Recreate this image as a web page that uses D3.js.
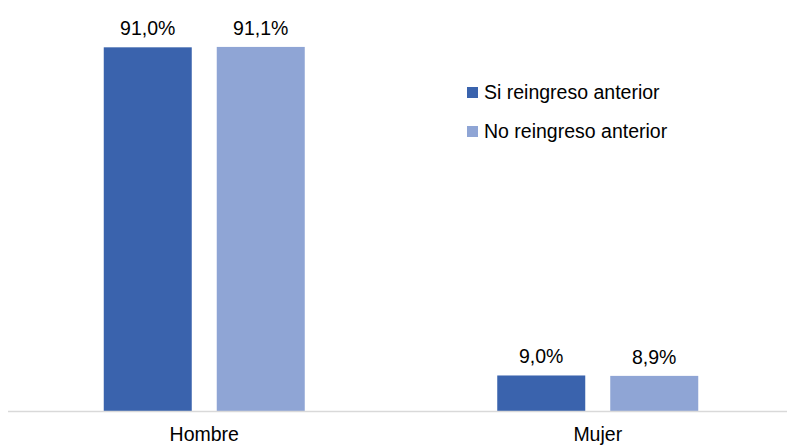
<!DOCTYPE html>
<html><head><meta charset="utf-8">
<script src="https://cdn.jsdelivr.net/npm/d3@7"></script>
<style>body{margin:0;background:#fff}svg{display:block}text{font-family:"Liberation Sans",Arial,sans-serif;fill:#000}</style>
</head><body><svg width="787" height="447"></svg>
<script>
const categories = ["Hombre", "Mujer"];
const seriesNames = ["Si reingreso anterior", "No reingreso anterior"];
const siValues = [91.0, 9.0];
const noValues = [91.1, 8.9];
const colors = ["#3a63ad", "#8fa5d5"];

const FS = 19.5;
const svg = d3.select("svg");
const x0 = d3.scaleBand().domain(categories).range([7.5, 794.5]).paddingInner(0).paddingOuter(0);
const groupW = 201, outer = (x0.bandwidth() - groupW) / 2;
const x1 = d3.scaleBand().domain(seriesNames).range([outer, outer + groupW]).paddingInner(25 / 113).paddingOuter(0);
const y = d3.scaleLinear().domain([0, 100]).range([411.5, 11.3]);

const data = categories.map((c, i) => ({cat: c, vals: [siValues[i], noValues[i]]}));
const fmt = v => v.toFixed(1).replace(".", ",") + "%";

const g = svg.selectAll("g.cat").data(data).join("g").attr("class", "cat")
  .attr("transform", d => `translate(${x0(d.cat)},0)`);
g.selectAll("rect").data(d => d.vals.map((v, j) => ({s: seriesNames[j], v, j})))
  .join("rect")
  .attr("x", d => x1(d.s)).attr("width", x1.bandwidth())
  .attr("y", d => y(d.v)).attr("height", d => y(0) - y(d.v))
  .attr("fill", d => colors[d.j]);
g.selectAll("text.lbl").data(d => d.vals.map((v, j) => ({s: seriesNames[j], v, j})))
  .join("text").attr("class", "lbl")
  .attr("x", d => x1(d.s) + x1.bandwidth() / 2).attr("y", d => y(d.v) - 12)
  .attr("text-anchor", "middle").attr("font-size", FS).text(d => fmt(d.v));

// axis
const ax = svg.append("g").attr("transform", `translate(0,${y(0)})`)
  .call(d3.axisBottom(x0).tickSize(0).tickPadding(15.7));
ax.select(".domain").attr("stroke", "#d9d9d9").attr("stroke-width", 1.5).attr("d", "M8,0H787");
ax.selectAll("text").attr("font-size", FS).attr("fill", "#000").attr("font-family", "Liberation Sans, Arial, sans-serif");

// legend
const leg = svg.append("g").attr("transform", "translate(467,92.5)");
seriesNames.forEach((s, i) => {
  const r = leg.append("g").attr("transform", `translate(0,${i * 39})`);
  r.append("rect").attr("x", 0).attr("y", -5.5).attr("width", 11).attr("height", 11).attr("fill", colors[i]);
  r.append("text").attr("x", 17).attr("y", 0).attr("dy", "0.35em").attr("font-size", FS).text(s);
});
</script></body></html>
